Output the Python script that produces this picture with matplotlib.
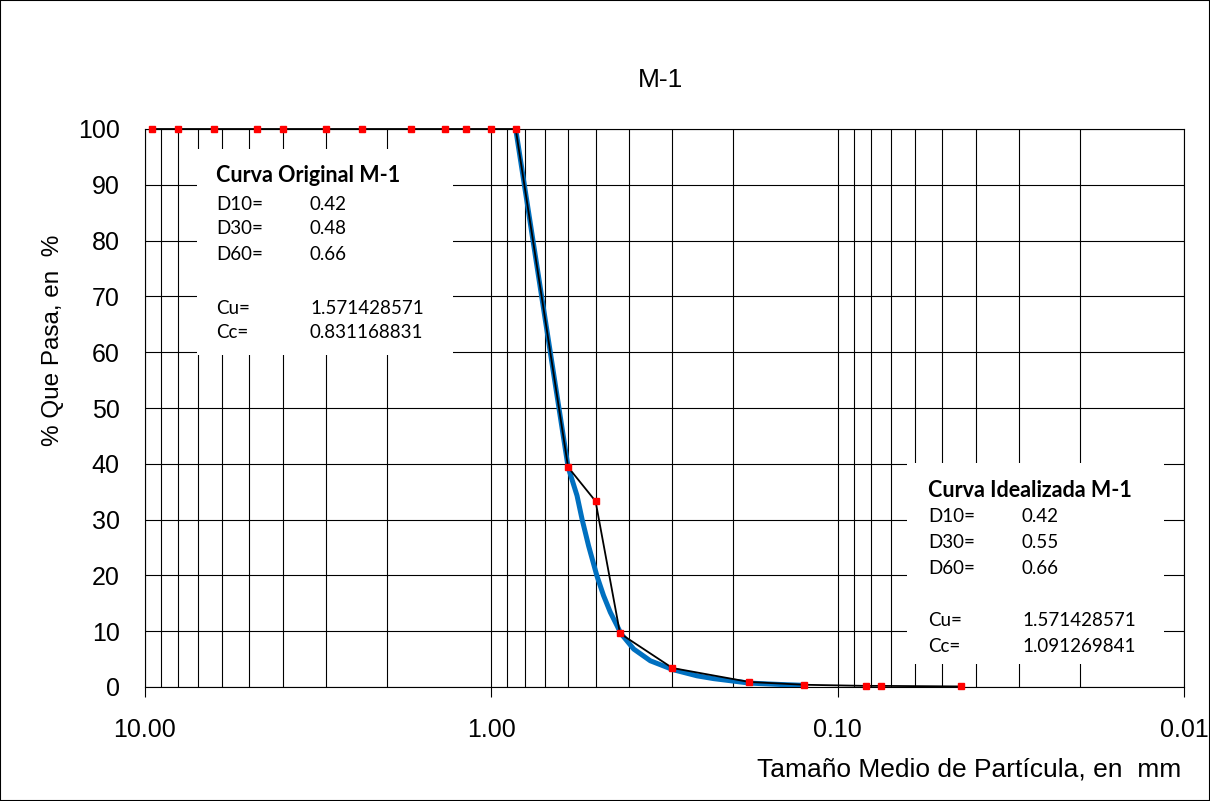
import matplotlib
matplotlib.use('Agg')
import matplotlib.pyplot as plt
from matplotlib.patches import Rectangle
from matplotlib.ticker import NullFormatter

# datos de la granulometria (tamaño en mm, % que pasa)
tamano_orig = [9.5, 8.0, 6.3, 4.75, 4.0, 3.0, 2.36, 1.7, 1.36, 1.18, 1.0, 0.85,
               0.6, 0.5, 0.425, 0.3, 0.18, 0.125, 0.083, 0.075, 0.044]
pasa_orig = [100, 100, 100, 100, 100, 100, 100, 100, 100, 100, 100, 100,
             39.4, 33.3, 9.6, 3.4, 0.9, 0.4, 0.2, 0.2, 0.1]

# curva idealizada
tamano_ideal = [0.85, 0.6, 0.5655, 0.547, 0.5237, 0.4954, 0.4742, 0.4533, 0.4335,
                0.4227, 0.388, 0.3475, 0.2985, 0.2547, 0.228, 0.18, 0.1463, 0.125]
pasa_ideal = [100, 39.4, 34.3, 30.1, 25.3, 19.9, 16.4, 13.4, 11.0,
              9.6, 6.8, 4.7, 3.1, 2.0, 1.5, 0.7, 0.45, 0.3]

xticks = [10, 1, 0.1, 0.01]
xtick_labels = ['10.00', '1.00', '0.10', '0.01']
yticks = [0, 10, 20, 30, 40, 50, 60, 70, 80, 90, 100]

orig_rows = [('D10=', '0.42'), ('D30=', '0.48'), ('D60=', '0.66'),
             ('Cu=', '1.571428571'), ('Cc=', '0.831168831')]
ideal_rows = [('D10=', '0.42'), ('D30=', '0.55'), ('D60=', '0.66'),
              ('Cu=', '1.571428571'), ('Cc=', '1.091269841')]

W, H = 1210, 801
plt.rcParams['font.family'] = ['Liberation Sans', 'DejaVu Sans']

fig = plt.figure(figsize=(W / 100, H / 100), dpi=100)


def px(x, y):
    return x / W, 1 - y / H


ax = fig.add_axes([144.7 / W, 1 - 687 / H, (1184.3 - 144.7) / W, (687 - 129) / H])
ax.set_xscale('log')
ax.set_xlim(10, 0.01)
ax.set_ylim(0, 100)
ax.set_axisbelow(True)

ax.grid(which='major', axis='both', color='black', lw=0.8)
ax.grid(which='minor', axis='x', color='black', lw=0.8)
ax.xaxis.set_minor_formatter(NullFormatter())
ax.set_xticks(xticks, xtick_labels)
ax.set_yticks(yticks)
ax.tick_params(axis='x', which='major', direction='out', length=7.5, width=0.8,
               pad=15, labelsize=18)
ax.tick_params(axis='x', which='minor', length=0)
ax.tick_params(axis='y', length=0, pad=18, labelsize=18)
for s in ax.spines.values():
    s.set_linewidth(0.8)

# curvas
ax.plot(tamano_ideal, pasa_ideal, color='#0070C0', lw=3.6, zorder=3,
        solid_capstyle='round', solid_joinstyle='round')
ax.plot(tamano_orig, pasa_orig, color='black', lw=1.3, zorder=4,
        marker='s', markersize=5, markerfacecolor='#FF0000',
        markeredgecolor='#FF0000', clip_on=False)

# cuadros de texto
def cuadro(x0, y0, x1, y1, titulo, filas, xt, yt, xv, ys):
    fig.patches.append(Rectangle(px(x0, y1), (x1 - x0) / W, (y1 - y0) / H,
                                 transform=fig.transFigure, facecolor='white',
                                 edgecolor='none', zorder=2))
    fig.text(*px(xt, yt), titulo, fontsize=15.5, fontweight='bold',
             family='Lato', va='center', zorder=5)
    for (lab, val), y in zip(filas, ys):
        fig.text(*px(xt, y), lab, fontsize=13.5, family='Lato', va='center', zorder=5)
        fig.text(*px(xv, y), val, fontsize=13.5, family='Lato', va='center', zorder=5)


cuadro(197, 149, 453, 355, 'Curva Original M-1', orig_rows, 216, 176, 310,
       [204, 229, 255, 308, 333])
cuadro(907, 463, 1164, 664, 'Curva Idealizada M-1', ideal_rows, 928, 490, 1022,
       [517, 543, 569, 621, 646])

# titulos
fig.text(*px(660, 80), 'M-1', fontsize=19, ha='center', va='center')
fig.text(*px(53, 340), '% Que Pasa, en  %', fontsize=17.5, rotation=90,
         ha='center', va='center')
fig.text(*px(1181, 777), 'Tamaño Medio de Partícula, en  mm', fontsize=19,
         ha='right', va='baseline')

# marco exterior
fig.patches.append(Rectangle((0, 0), 1, 1, transform=fig.transFigure,
                             fill=False, edgecolor='black', lw=1.5))

plt.savefig('out.png', dpi=100)
